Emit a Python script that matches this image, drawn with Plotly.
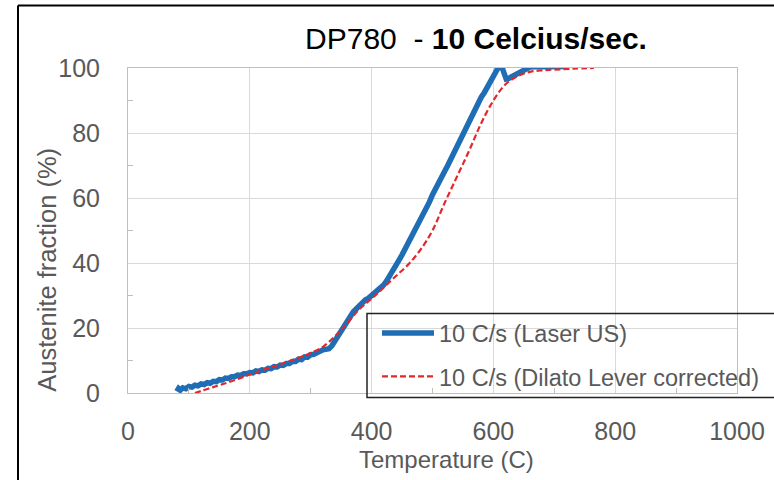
import plotly.graph_objects as go

# Laser US measurement (temperature in C, austenite fraction in %)
laser_temp = [80, 83, 86, 90, 95, 100, 105, 110, 115, 120, 125, 130, 135, 140, 145, 150, 155, 160, 165,
              170, 175, 180, 185, 190, 195, 200, 205, 210, 215, 220, 225, 230, 235, 240, 245, 250, 255,
              260, 265, 270, 275, 280, 285, 290, 295, 300, 305, 310, 315, 320, 325, 330, 335, 340, 345,
              350, 355, 360, 365, 370, 375, 380, 385, 390, 395, 400, 405, 410, 415, 420, 425, 430, 435,
              440, 445, 450, 455, 460, 465, 470, 475, 480, 485, 490, 495, 500, 505, 510, 515, 520, 525,
              530, 535, 540, 545, 550, 555, 560, 565, 570, 575, 580, 585, 590, 595, 600, 605, 609, 613,
              617, 621, 625, 630, 635, 640, 645, 650, 655, 660, 670, 680, 690, 700, 710, 720]
laser_frac = [0.5, 1.4, 0.9, 1.6, 1.3, 2.0, 1.8, 2.4, 2.2, 2.8, 2.6, 3.2, 3.0, 3.6, 3.5, 4.1, 4.0, 4.6, 4.5,
              5.0, 5.0, 5.5, 5.4, 5.9, 5.9, 6.3, 6.2, 6.8, 6.6, 7.1, 7.0, 7.6, 7.5, 8.1, 8.0, 8.6, 8.5,
              9.1, 9.1, 9.7, 9.7, 10.4, 10.3, 11.1, 11.0, 11.8, 11.9, 12.6, 12.8, 13.3, 13.5, 13.6, 14.6, 16.2, 17.6,
              19.3, 20.7, 22.4, 23.6, 25.0, 25.9, 27.0, 27.7, 28.7, 29.2, 30.0, 30.9, 31.6, 32.5, 33.3, 34.6, 36.0, 37.6,
              39.2, 40.9, 42.5, 44.3, 46.0, 47.6, 49.5, 51.3, 53.0, 54.6, 56.6, 58.8, 61.0, 62.6, 64.5, 66.2, 68.2, 70.0,
              72.0, 73.6, 75.5, 77.6, 79.6, 81.6, 83.5, 85.0, 87.0, 89.2, 91.0, 92.4, 94.0, 95.6, 97.0, 98.6, 100.5, 100.8,
              98.6, 96.6, 96.8, 97.3, 97.8, 98.4, 99.0, 99.6, 100.2, 100.3, 100.4, 100.5, 100.4, 100.5, 100.4, 100.5]

# Dilatometry, lever-rule corrected
dilato_temp = [110, 120, 140, 160, 180, 200, 220, 240, 260, 280, 300, 320, 340, 360, 380, 400, 420, 440,
               460, 480, 500, 520, 540, 560, 580, 600, 620, 640, 660, 680, 700, 730, 765]
dilato_frac = [0.0, 0.6, 1.8, 3.0, 4.3, 5.7, 7.0, 8.2, 9.5, 10.8, 12.3, 14.2, 17.5, 21.5, 25.8, 29.0, 32.5, 36.0,
               39.5, 44.0, 50.0, 58.5, 66.5, 74.5, 83.0, 90.0, 95.0, 97.5, 98.8, 99.3, 99.5, 99.8, 100.0]

x_ticks = [0, 200, 400, 600, 800, 1000]
y_ticks = [0, 20, 40, 60, 80, 100]

FONT = "Liberation Sans, Arial, sans-serif"
GRAY_TXT = "#595959"
GRID = "#d9d9d9"

fig = go.Figure()
fig.add_trace(go.Scatter(
    x=laser_temp, y=laser_frac, mode="lines", name="10 C/s (Laser US)",
    line=dict(color="#1f6db5", width=5.5), legendgroup="a"))
fig.add_trace(go.Scatter(
    x=dilato_temp, y=dilato_frac, mode="lines", name="10 C/s (Dilato Lever corrected)",
    line=dict(color="#e0282e", width=2.2, dash="6px,3px", shape="spline"), legendgroup="b"))

L, R, T, B = 128, 37, 68, 86.5
W, H = 774, 480
pw, ph = W - L - R, H - T - B

def px_x(p):
    return (p - L) / pw

def px_y(p):
    return (H - B - p) / ph

fig.update_layout(
    width=W, height=H,
    margin=dict(l=L, r=R, t=T, b=B, autoexpand=False),
    paper_bgcolor="white", plot_bgcolor="white",
    font=dict(family=FONT, color=GRAY_TXT),
    title=dict(
        text="DP780  - <b>10 Celcius/sec.</b>",
        font=dict(family=FONT, size=30, color="#000000"),
        x=px_x(476), xref="paper", xanchor="center",
        y=1 - 38 / H, yref="container", yanchor="middle"),
    showlegend=True,
    legend=dict(
        x=px_x(377), y=px_y(311.5), xanchor="left", yanchor="top",
        bgcolor="rgba(0,0,0,0)", borderwidth=0,
        font=dict(family=FONT, size=23.5, color=GRAY_TXT),
        itemwidth=52, tracegroupgap=10, traceorder="grouped"),
    xaxis=dict(
        range=[0, 1000], tickvals=x_ticks, ticktext=[str(v) for v in x_ticks],
        showgrid=True, gridcolor=GRID, gridwidth=1,
        showline=True, linecolor="#bfbfbf", linewidth=1, mirror=True,
        ticks="", ticklabelstandoff=16,
        tickfont=dict(family=FONT, size=25, color=GRAY_TXT),
        minor=dict(tickvals=[100, 300, 500, 700, 900], ticks="inside", ticklen=5,
                   tickcolor="#bfbfbf", showgrid=False),
        zeroline=False),
    yaxis=dict(
        range=[0, 100], tickvals=y_ticks, ticktext=[str(v) for v in y_ticks],
        showgrid=True, gridcolor=GRID, gridwidth=1,
        showline=True, linecolor="#bfbfbf", linewidth=1, mirror=True,
        ticks="", ticklabelstandoff=22,
        tickfont=dict(family=FONT, size=25, color=GRAY_TXT),
        minor=dict(tickvals=[10, 30, 50, 70, 90], ticks="inside", ticklen=5,
                   tickcolor="#bfbfbf", showgrid=False),
        zeroline=False),
    annotations=[
        dict(text="Temperature (C)", xref="paper", yref="paper",
             x=px_x(446), y=px_y(460), xanchor="center", yanchor="middle",
             showarrow=False, font=dict(family=FONT, size=24, color=GRAY_TXT)),
        dict(text="Austenite fraction (%)", xref="paper", yref="paper",
             x=px_x(47), y=px_y(270), xanchor="center", yanchor="middle", textangle=-90,
             showarrow=False, font=dict(family=FONT, size=25.5, color=GRAY_TXT)),
    ],
    shapes=[
        dict(type="rect", xref="paper", yref="paper",
             x0=px_x(367), x1=px_x(790), y0=px_y(398), y1=px_y(314),
             line=dict(color="#222222", width=1.5), fillcolor="rgba(0,0,0,0)"),
        dict(type="line", xref="paper", yref="paper",
             x0=px_x(18), x1=px_x(18), y0=px_y(490), y1=px_y(5.5),
             line=dict(color="#000000", width=2)),
        dict(type="line", xref="paper", yref="paper",
             x0=px_x(18), x1=px_x(790), y0=px_y(5.5), y1=px_y(5.5),
             line=dict(color="#000000", width=2)),
    ],
)

fig.write_html("out.html")
